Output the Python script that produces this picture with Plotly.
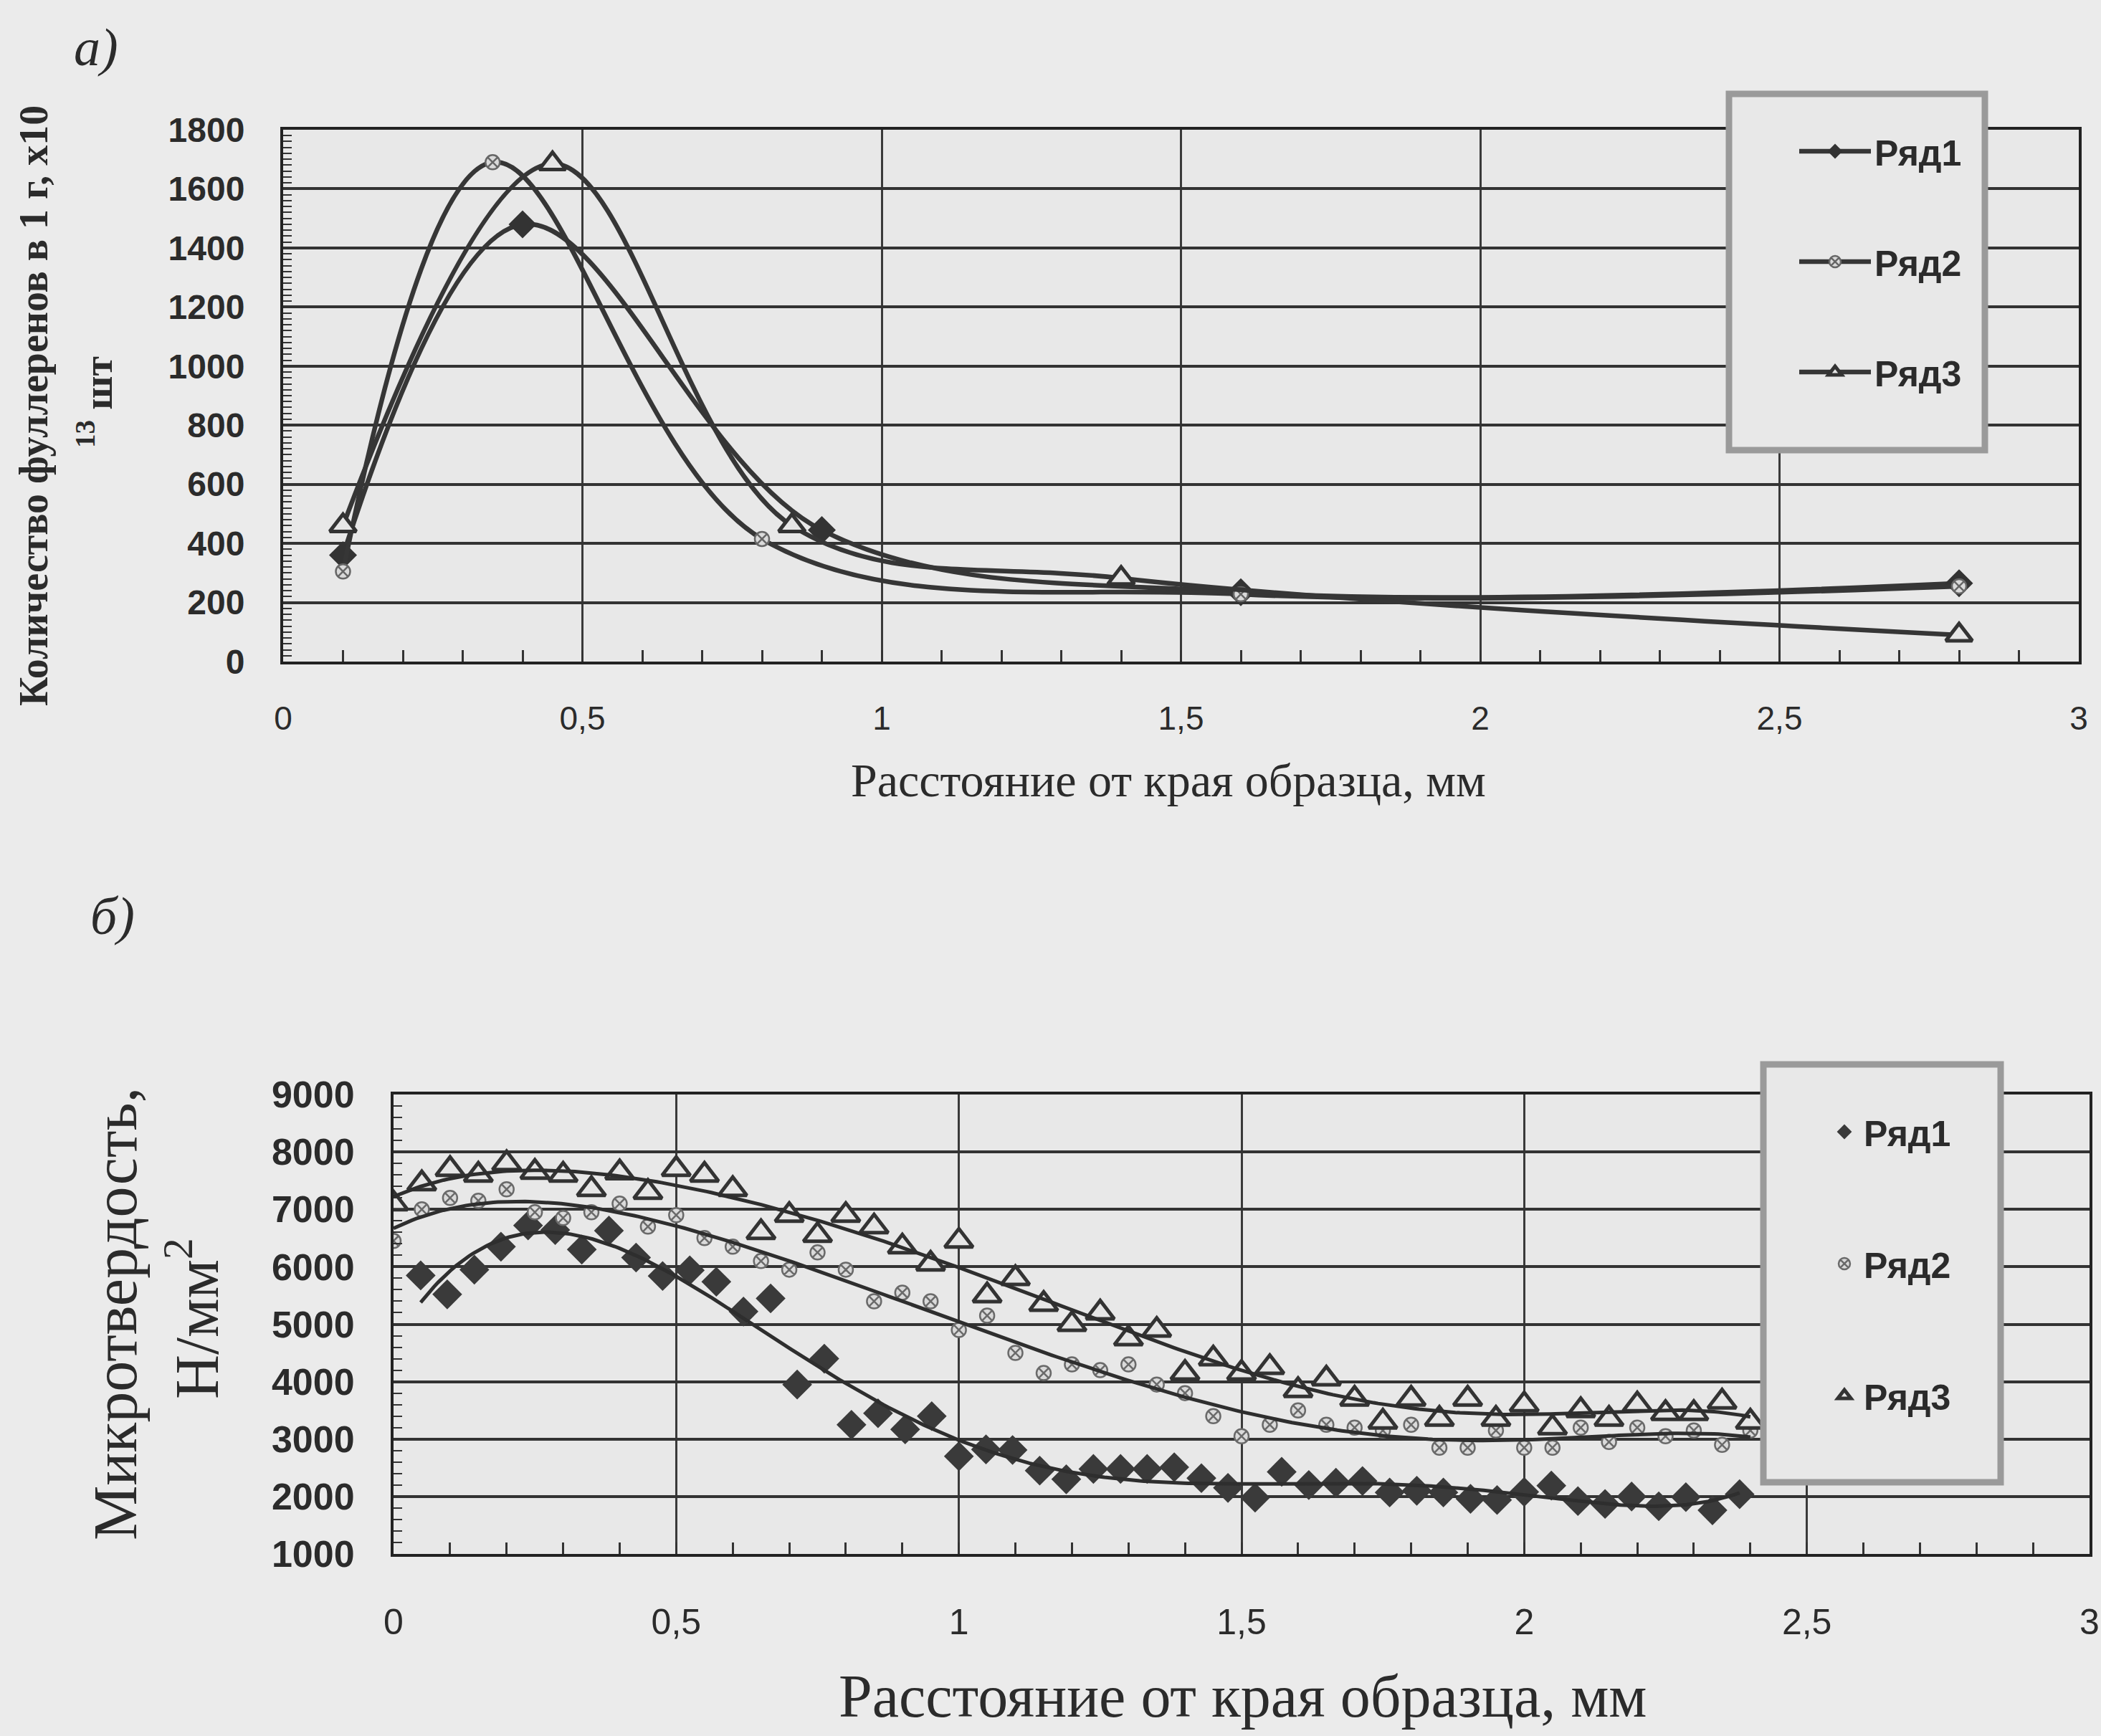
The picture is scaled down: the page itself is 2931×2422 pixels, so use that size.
import numpy as np
import plotly.graph_objects as go

# ---------------- data: chart a) fullerenes ----------------
A_NAMES = ["Ряд1", "Ряд2", "Ряд3"]
A_X1 = [0.1, 0.4, 0.9, 1.6, 2.8]
A_Y1 = [360, 1480, 445, 235, 265]
A_X2 = [0.1, 0.35, 0.8, 1.6, 2.8]
A_Y2 = [305, 1690, 415, 228, 255]
A_X3 = [0.1, 0.45, 0.85, 1.4, 2.8]
A_Y3 = [460, 1685, 460, 282, 90]

# ---------------- data: chart б) microhardness ----------------
B_X1 = [0.048, 0.095, 0.143, 0.190, 0.238, 0.286, 0.333, 0.381, 0.429, 0.476,
        0.524, 0.571, 0.619, 0.667, 0.714, 0.762, 0.810, 0.857, 0.905, 0.952,
        1.000, 1.048, 1.095, 1.143, 1.190, 1.238, 1.286, 1.333, 1.381, 1.429,
        1.476, 1.524, 1.571, 1.619, 1.667, 1.714, 1.762, 1.810, 1.857, 1.905,
        1.952, 2.000, 2.048, 2.095, 2.143, 2.190, 2.238, 2.286, 2.333, 2.381]
B_Y1 = [5850, 5520, 5950, 6350, 6720, 6640, 6300, 6630, 6160, 5840,
        5940, 5740, 5220, 5450, 3950, 4400, 3250, 3450, 3170, 3400,
        2700, 2820, 2810, 2450, 2300, 2480, 2480, 2480, 2510, 2320,
        2150, 1980, 2430, 2200, 2240, 2270, 2070, 2100, 2070, 1960,
        1940, 2080, 2190, 1920, 1870, 2000, 1830, 1990, 1760, 2040]
B_X23 = [0.00, 0.05, 0.10, 0.15, 0.20, 0.25, 0.30, 0.35, 0.40, 0.45,
         0.50, 0.55, 0.60, 0.65, 0.70, 0.75, 0.80, 0.85, 0.90, 0.95,
         1.00, 1.05, 1.10, 1.15, 1.20, 1.25, 1.30, 1.35, 1.40, 1.45,
         1.50, 1.55, 1.60, 1.65, 1.70, 1.75, 1.80, 1.85, 1.90, 1.95,
         2.00, 2.05, 2.10, 2.15, 2.20, 2.25, 2.30, 2.35, 2.40]
B_Y2 = [6450, 7000, 7200, 7150, 7350, 6950, 6850, 6950, 7100, 6700,
        6900, 6500, 6350, 6100, 5950, 6250, 5950, 5400, 5550, 5400,
        4900, 5150, 4500, 4150, 4300, 4200, 4300, 3950, 3800, 3400,
        3050, 3250, 3500, 3250, 3200, 3150, 3250, 2850, 2850, 3150,
        2850, 2850, 3200, 2950, 3200, 3050, 3150, 2900, 3150]
B_Y3 = [7100, 7450, 7700, 7600, 7800, 7650, 7600, 7350, 7640, 7300,
        7700, 7600, 7350, 6600, 6900, 6550, 6900, 6700, 6350, 6050,
        6450, 5500, 5800, 5350, 5000, 5200, 4750, 4900, 4150, 4400,
        4150, 4250, 3850, 4050, 3700, 3300, 3700, 3350, 3700, 3350,
        3600, 3200, 3500, 3350, 3600, 3450, 3450, 3650, 3300]

X_TICKS = [0, 0.5, 1, 1.5, 2, 2.5, 3]
X_TICK_LABELS = ["0", "0,5", "1", "1,5", "2", "2,5", "3"]

# ---------------- styling ----------------
W, H = 2931, 2422
PAPER = "#ebebeb"
PLOT = "#e8e8e8"
INK = "#2b2b2b"
SANS = "Liberation Sans, Arial, sans-serif"
SERIF = "Liberation Serif, Times New Roman, serif"


def px_x(p):
    return p / W


def px_y(p):
    return 1 - p / H


fig = go.Figure()

# chart a)
line_kw = dict(shape="spline", smoothing=1.0, color="#363636", width=6.5)
fig.add_trace(go.Scatter(x=A_X1, y=A_Y1, name=A_NAMES[0], mode="lines+markers",
                         line=line_kw, legendgroup="a1", legend="legend",
                         marker=dict(symbol="diamond", size=30, color="#333333")))
fig.add_trace(go.Scatter(x=A_X2, y=A_Y2, name=A_NAMES[1], mode="lines+markers",
                         line=line_kw, legendgroup="a2", legend="legend",
                         marker=dict(symbol="circle-x", size=20, color="#dadada",
                                     line=dict(color="#666666", width=2.5))))
fig.add_trace(go.Scatter(x=A_X3, y=A_Y3, name=A_NAMES[2], mode="lines+markers",
                         line=line_kw, legendgroup="a3", legend="legend",
                         marker=dict(symbol="triangle-up", size=32, color="#e6e6e6",
                                     line=dict(color="#333333", width=5))))

# chart б) markers
fig.add_trace(go.Scatter(x=B_X1, y=B_Y1, name=A_NAMES[0], mode="markers",
                         xaxis="x2", yaxis="y2", legendgroup="b1", legend="legend2",
                         marker=dict(symbol="diamond", size=32, color="#3a3a3a")))
fig.add_trace(go.Scatter(x=B_X23, y=B_Y2, name=A_NAMES[1], mode="markers",
                         xaxis="x2", yaxis="y2", legendgroup="b2", legend="legend2",
                         marker=dict(symbol="circle-x", size=20, color="#dadada",
                                     line=dict(color="#6a6a6a", width=2.5))))
fig.add_trace(go.Scatter(x=B_X23, y=B_Y3, name=A_NAMES[2], mode="markers",
                         xaxis="x2", yaxis="y2", legendgroup="b3", legend="legend2",
                         marker=dict(symbol="triangle-up", size=34, color="#e6e6e6",
                                     line=dict(color="#333333", width=5))))

# chart б) polynomial trend lines (computed from the data)
for xs, ys in [(B_X1, B_Y1), (B_X23, B_Y2), (B_X23, B_Y3)]:
    coef = np.polyfit(xs, ys, 6)
    xt = np.linspace(min(xs), max(xs), 300)
    fig.add_trace(go.Scatter(x=xt, y=np.polyval(coef, xt), mode="lines",
                             xaxis="x2", yaxis="y2", showlegend=False,
                             hoverinfo="skip",
                             line=dict(color="#2e2e2e", width=5)))

tick_font_bold = dict(family=SANS, size=48, color=INK, weight="bold")

common_x = dict(range=[0, 3], tickvals=X_TICKS, ticktext=X_TICK_LABELS,
                showgrid=True, gridcolor="#3a3a3a", gridwidth=3,
                showline=True, mirror=True, linecolor="#222222", linewidth=4,
                ticks="inside", ticklen=16, tickwidth=3, tickcolor="#333333",
                zeroline=False,
                minor=dict(tickmode="linear", tick0=0, dtick=0.1, ticks="inside",
                           ticklen=16, tickwidth=3, tickcolor="#333333",
                           showgrid=False))
common_y = dict(showgrid=True, gridcolor="#333333", gridwidth=4,
                showline=True, mirror=True, linecolor="#222222", linewidth=4,
                ticks="inside", ticklen=12, tickwidth=3, tickcolor="#333333",
                zeroline=False, tickfont=tick_font_bold, ticklabelstandoff=40)


def ann(text, x, y, size, angle=0, **font):
    return dict(text=text, x=px_x(x), y=px_y(y), xref="paper", yref="paper",
                xanchor="center", yanchor="middle", showarrow=False,
                textangle=angle, font=dict(family=SERIF, size=size, color=INK, **font))


fig.update_layout(
    width=W, height=H, autosize=False,
    margin=dict(l=0, r=0, t=0, b=0, pad=0, autoexpand=False),
    paper_bgcolor=PAPER, plot_bgcolor=PLOT,
    xaxis=dict(common_x, domain=[px_x(395), px_x(2900)], anchor="y",
               tickfont=dict(family=SANS, size=46, color=INK),
               ticklabelstandoff=36),
    yaxis=dict(common_y, domain=[px_y(923), px_y(181)], anchor="x",
               range=[0, 1800], dtick=200, tick0=0,
               minor=dict(tickmode="linear", tick0=0, dtick=20, ticks="inside",
                          ticklen=12, tickwidth=2, tickcolor="#333333",
                          showgrid=False)),
    xaxis2=dict(common_x, domain=[px_x(549), px_x(2915)], anchor="y2",
                tickfont=dict(family=SANS, size=50, color=INK),
                ticklabelstandoff=48),
    yaxis2=dict(common_y, domain=[px_y(2168), px_y(1527)], anchor="x2",
                range=[1000, 9000], dtick=1000, tick0=0,
                tickfont=dict(family=SANS, size=52, color=INK, weight="bold"),
                minor=dict(tickmode="linear", tick0=0, dtick=200, ticks="inside",
                           ticklen=12, tickwidth=2, tickcolor="#333333",
                           showgrid=False)),
    legend=dict(x=px_x(2505), y=px_y(172), xanchor="left", yanchor="top",
                bgcolor="rgba(0,0,0,0)", borderwidth=0, tracegroupgap=86,
                itemwidth=100,
                font=dict(family=SANS, size=50, color=INK, weight="bold")),
    legend2=dict(x=px_x(2546), y=px_y(1540), xanchor="left", yanchor="top",
                 bgcolor="rgba(0,0,0,0)", borderwidth=0, tracegroupgap=116,
                 itemwidth=44,
                 font=dict(family=SANS, size=50, color=INK, weight="bold")),
    shapes=[
        dict(type="rect", xref="paper", yref="paper", layer="above",
             x0=px_x(2412), x1=px_x(2769), y0=px_y(628), y1=px_y(131),
             line=dict(color="#9a9a9a", width=9), fillcolor=PLOT),
        dict(type="rect", xref="paper", yref="paper", layer="above",
             x0=px_x(2460), x1=px_x(2791), y0=px_y(2068), y1=px_y(1485),
             line=dict(color="#9a9a9a", width=9), fillcolor=PLOT),
    ],
    annotations=[
        ann("а)", 134, 66, 74, style="italic"),
        ann("б)", 157, 1278, 74, style="italic"),
        ann("Количество фуллеренов в 1 г, x10", 47, 566, 56, -90, weight="bold"),
        ann("<sup>13</sup> шт", 132, 561, 56, -90, weight="bold"),
        ann("Расстояние от края образца, мм", 1630, 1088, 66),
        ann("Микротвердость,", 161, 1833, 86, -90),
        ann("Н/мм<sup>2</sup>", 268, 1840, 86, -90),
        ann("Расстояние от края образца, мм", 1733, 2366, 84),
    ],
)

fig.write_html("out.html",
               config={"displayModeBar": False},
               post_script="document.body.style.margin='0';"
                           "document.body.style.overflow='hidden';")
